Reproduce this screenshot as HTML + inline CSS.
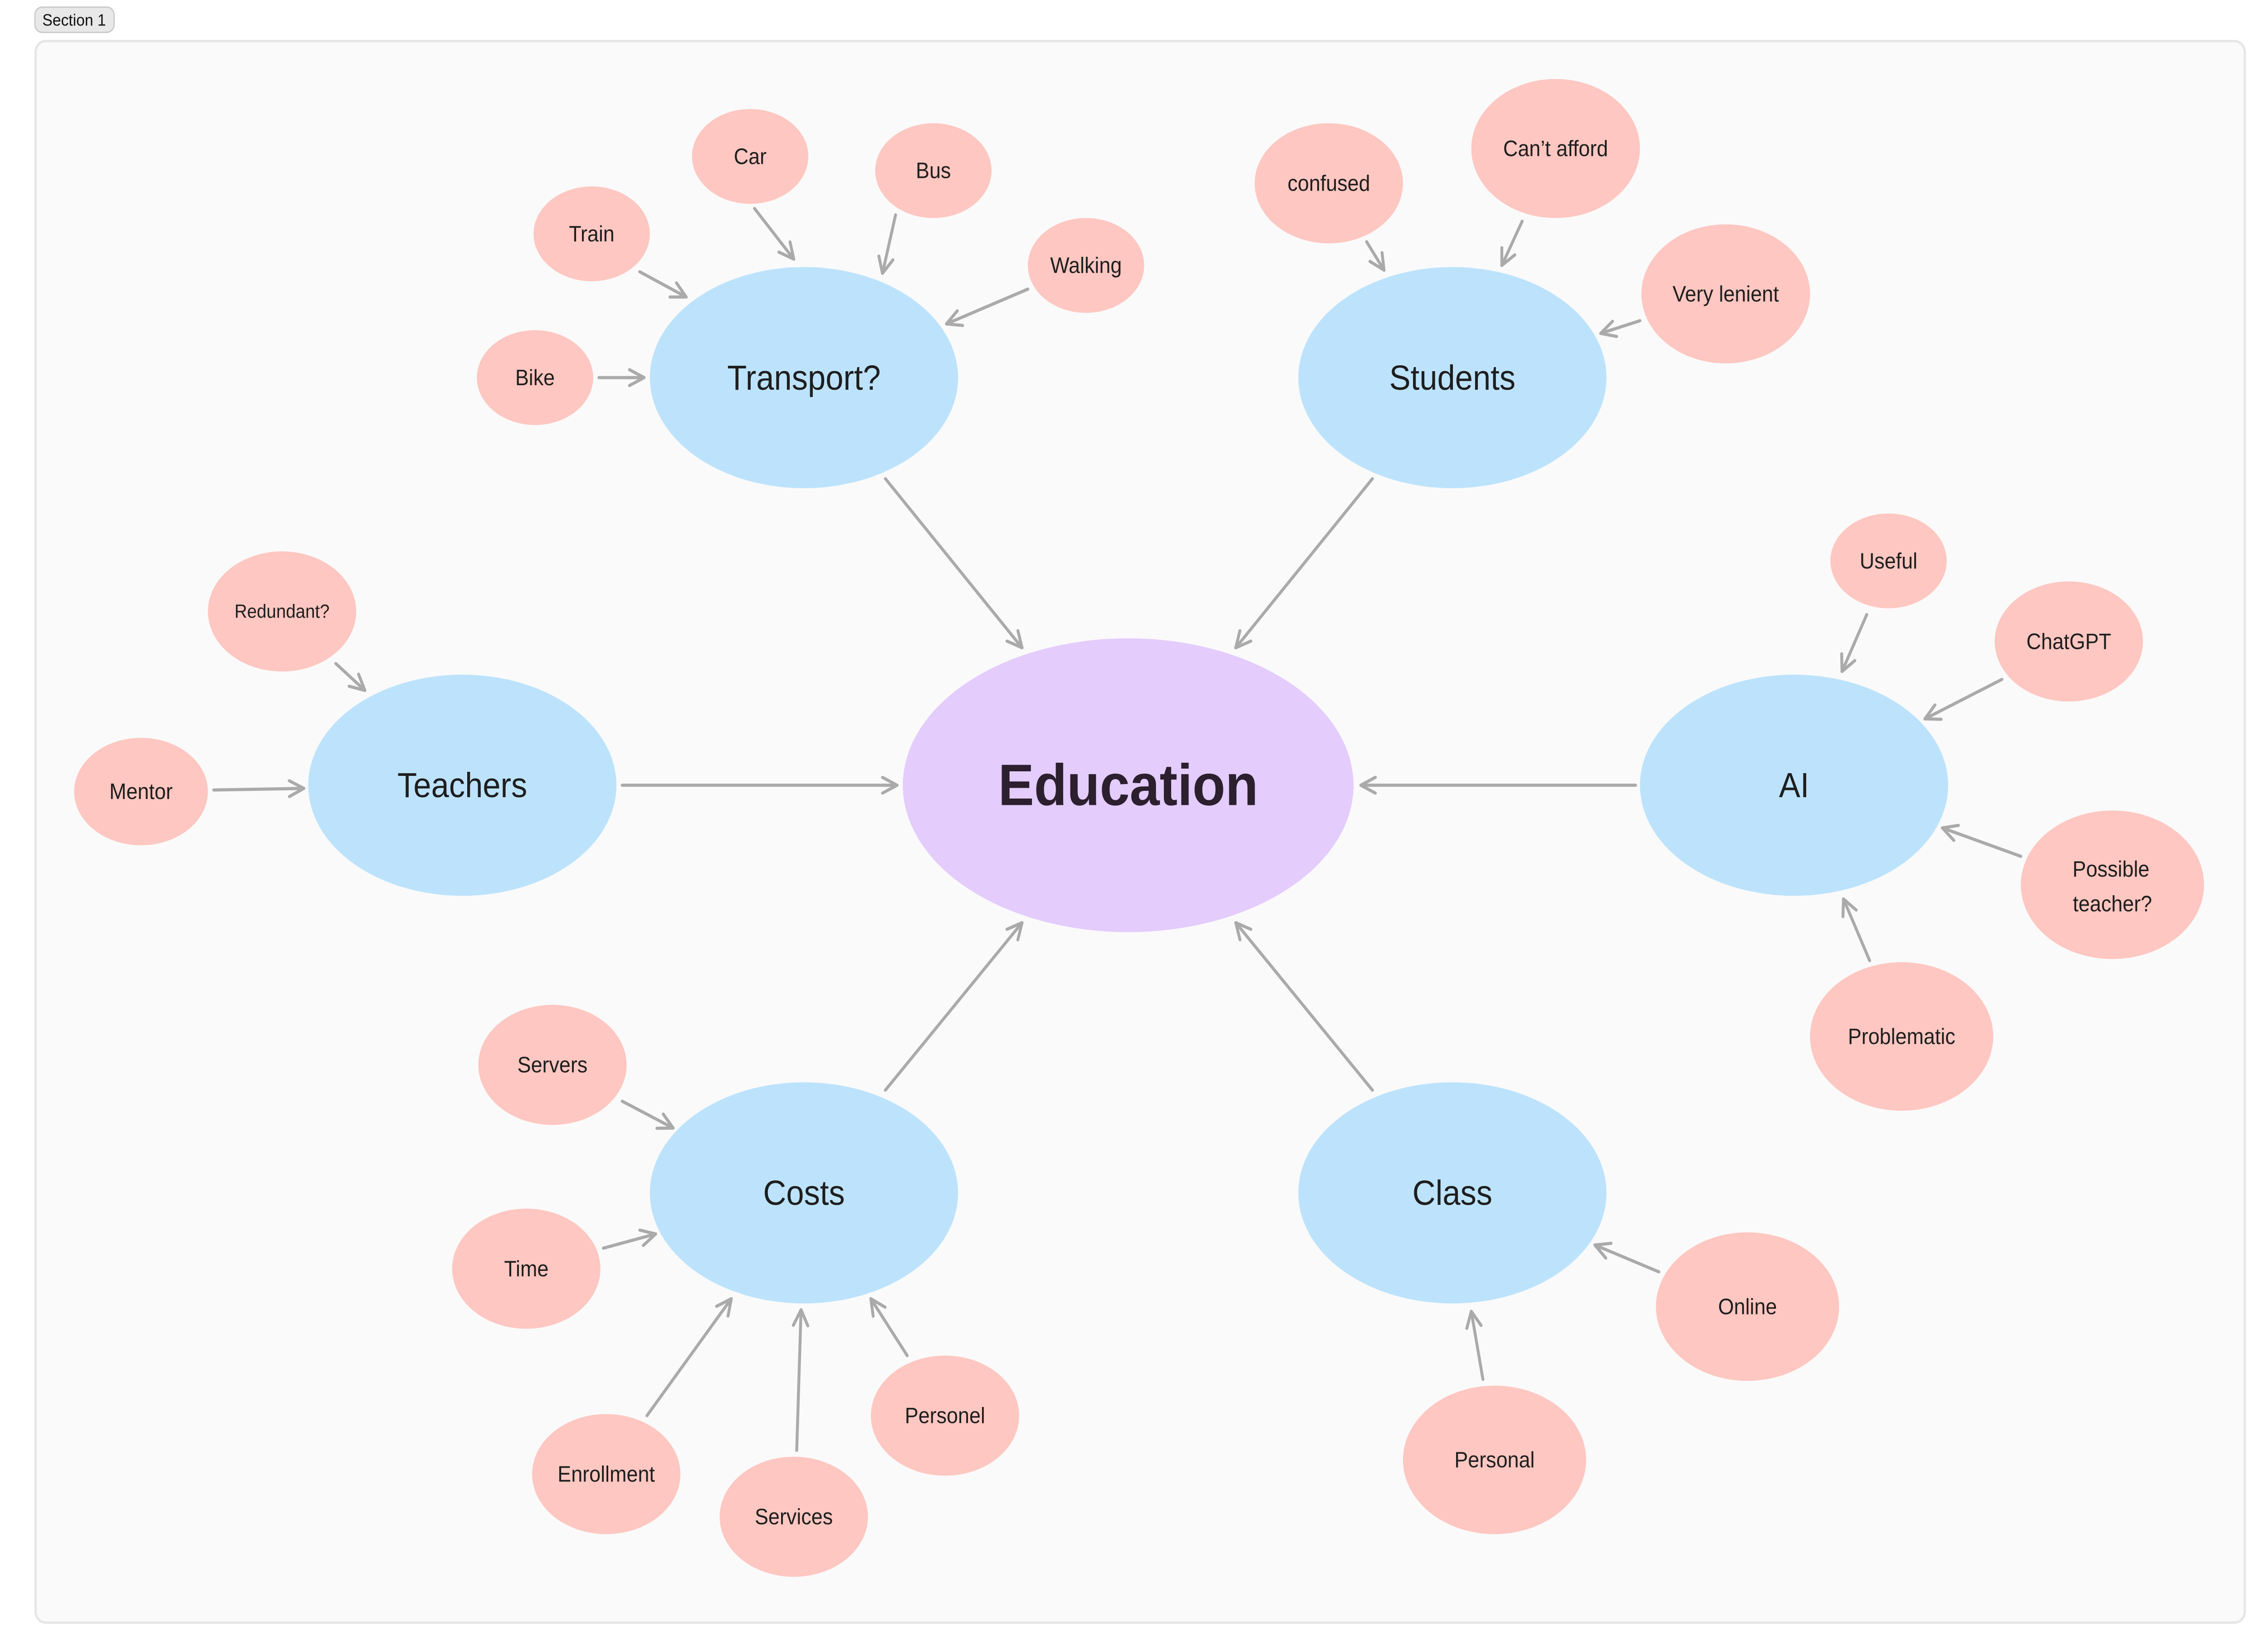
<!DOCTYPE html>
<html><head><meta charset="utf-8"><style>
html,body{margin:0;padding:0;background:#fff;width:100%;height:100%;overflow:hidden;}
svg{display:block;width:100vw;height:100vh;}
text{font-family:"Liberation Sans",sans-serif;text-anchor:middle;dominant-baseline:central;fill:#1e1e1e;}
.p{font-size:14px;}
.b{font-size:22px;}
</style></head><body>
<svg viewBox="0 0 1560 1045.6" preserveAspectRatio="none" xmlns="http://www.w3.org/2000/svg">
<defs>
<marker id="a" viewBox="0 0 12 12" refX="11" refY="6" markerWidth="12" markerHeight="12" markerUnits="userSpaceOnUse" orient="auto">
<path d="M1 1 L11 6 L1 11" fill="none" stroke="#aaaaaa" stroke-width="2" stroke-linecap="round" stroke-linejoin="round"/>
</marker>
</defs>
<rect x="24" y="4.5" width="54.5" height="16" rx="5" fill="#e8e8e8" stroke="#c8c8c8" stroke-width="0.8"/>
<text x="51" y="12.8" style="font-size:10.5px;fill:#111">Section 1</text>
<rect x="24.5" y="26" width="1519.5" height="1001" rx="7" fill="#fafafa" stroke="#e6e6e6" stroke-width="1.5"/>

<g stroke="#aaaaaa" stroke-width="2" fill="none" marker-end="url(#a)" stroke-linecap="round">
<line x1="609" y1="303" x2="703" y2="410"/>
<line x1="944" y1="303" x2="850" y2="410"/>
<line x1="428" y1="497" x2="617" y2="497"/>
<line x1="1125" y1="497" x2="936" y2="497"/>
<line x1="609" y1="690" x2="703" y2="584"/>
<line x1="944" y1="690" x2="850" y2="584"/>
<line x1="519" y1="132" x2="546" y2="164"/>
<line x1="616" y1="136" x2="607" y2="173"/>
<line x1="440" y1="172" x2="472" y2="188"/>
<line x1="707" y1="183" x2="651" y2="205"/>
<line x1="412" y1="239" x2="443" y2="239"/>
<line x1="940" y1="153" x2="952" y2="171"/>
<line x1="1047" y1="140" x2="1033" y2="168"/>
<line x1="1128" y1="203" x2="1101" y2="211"/>
<line x1="231" y1="420" x2="251" y2="437"/>
<line x1="147" y1="500" x2="209" y2="499"/>
<line x1="1284" y1="389" x2="1267" y2="425"/>
<line x1="1377" y1="430" x2="1324" y2="455"/>
<line x1="1390" y1="542" x2="1336" y2="524"/>
<line x1="1286" y1="608" x2="1268" y2="569"/>
<line x1="428" y1="697" x2="463" y2="714"/>
<line x1="415" y1="790" x2="451" y2="781"/>
<line x1="445" y1="896" x2="503" y2="822"/>
<line x1="548" y1="918" x2="551" y2="829"/>
<line x1="624" y1="858" x2="599" y2="822"/>
<line x1="1141" y1="805" x2="1097" y2="788"/>
<line x1="1020" y1="873" x2="1012" y2="830"/>
</g>

<ellipse cx="776" cy="497" rx="155" ry="93" fill="#e4ccfd"/>
<text x="776" y="497" style="font-size:37px;font-weight:bold;fill:#2c1f2e">Education</text>

<g fill="#bde3fc">
<ellipse cx="553" cy="239" rx="106" ry="70"/>
<ellipse cx="999" cy="239" rx="106" ry="70"/>
<ellipse cx="318" cy="497" rx="106" ry="70"/>
<ellipse cx="1234" cy="497" rx="106" ry="70"/>
<ellipse cx="553" cy="755" rx="106" ry="70"/>
<ellipse cx="999" cy="755" rx="106" ry="70"/>
</g>
<text class="b" x="553" y="239">Transport?</text>
<text class="b" x="999" y="239">Students</text>
<text class="b" x="318" y="497">Teachers</text>
<text class="b" x="1234" y="497">AI</text>
<text class="b" x="553" y="755">Costs</text>
<text class="b" x="999" y="755">Class</text>

<g fill="#fec7c1">
<ellipse cx="516" cy="99" rx="40" ry="30"/>
<ellipse cx="642" cy="108" rx="40" ry="30"/>
<ellipse cx="407" cy="148" rx="40" ry="30"/>
<ellipse cx="747" cy="168" rx="40" ry="30"/>
<ellipse cx="368" cy="239" rx="40" ry="30"/>
<ellipse cx="914" cy="116" rx="51" ry="38"/>
<ellipse cx="1070" cy="94" rx="58" ry="44"/>
<ellipse cx="1187" cy="186" rx="58" ry="44"/>
<ellipse cx="194" cy="387" rx="51" ry="38"/>
<ellipse cx="97" cy="501" rx="46" ry="34"/>
<ellipse cx="1299" cy="355" rx="40" ry="30"/>
<ellipse cx="1423" cy="406" rx="51" ry="38"/>
<ellipse cx="1453" cy="560" rx="63" ry="47"/>
<ellipse cx="1308" cy="656" rx="63" ry="47"/>
<ellipse cx="380" cy="674" rx="51" ry="38"/>
<ellipse cx="362" cy="803" rx="51" ry="38"/>
<ellipse cx="417" cy="933" rx="51" ry="38"/>
<ellipse cx="546" cy="960" rx="51" ry="38"/>
<ellipse cx="650" cy="896" rx="51" ry="38"/>
<ellipse cx="1202" cy="827" rx="63" ry="47"/>
<ellipse cx="1028" cy="924" rx="63" ry="47"/>
</g>
<text class="p" x="516" y="99">Car</text>
<text class="p" x="642" y="108">Bus</text>
<text class="p" x="407" y="148">Train</text>
<text class="p" x="747" y="168">Walking</text>
<text class="p" x="368" y="239">Bike</text>
<text class="p" x="914" y="116">confused</text>
<text class="p" x="1070" y="94">Can’t afford</text>
<text class="p" x="1187" y="186">Very lenient</text>
<text x="194" y="387" style="font-size:12px">Redundant?</text>
<text class="p" x="97" y="501">Mentor</text>
<text class="p" x="1299" y="355">Useful</text>
<text class="p" x="1423" y="406">ChatGPT</text>
<text class="p" x="1452" y="550">Possible</text>
<text class="p" x="1453" y="572">teacher?</text>
<text class="p" x="1308" y="656">Problematic</text>
<text class="p" x="380" y="674">Servers</text>
<text class="p" x="362" y="803">Time</text>
<text class="p" x="417" y="933">Enrollment</text>
<text class="p" x="546" y="960">Services</text>
<text class="p" x="650" y="896">Personel</text>
<text class="p" x="1202" y="827">Online</text>
<text class="p" x="1028" y="924">Personal</text>
</svg>
</body></html>
